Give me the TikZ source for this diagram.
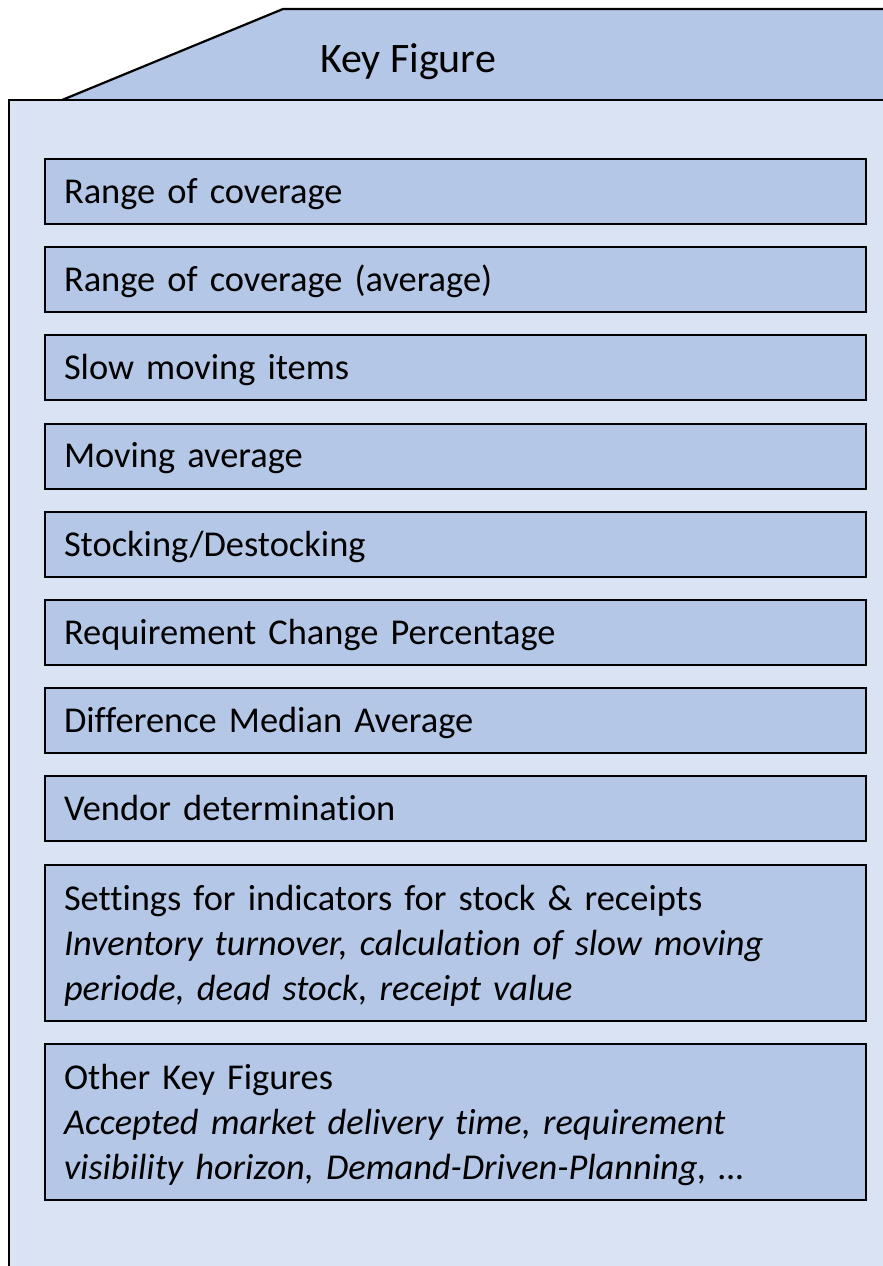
\documentclass[tikz,border=0pt]{standalone}
\usepackage{fontspec}
\setmainfont[Ligatures=NoCommon]{Carlito}
\usetikzlibrary{positioning}
\definecolor{kfdark}{HTML}{B4C7E7}
\definecolor{kflight}{HTML}{DAE3F3}
\newcommand{\kftop}{\rule{0pt}{15.5pt}}
\tikzset{
  outline/.style={draw=black, line width=1.1pt, line join=miter},
  figtitle/.style={font=\fontsize{21}{25}\selectfont, inner sep=0pt},
  figbox/.style={draw=black, fill=kfdark, line width=1pt, outer sep=0pt, anchor=north west, align=left, text width=391.5pt, inner xsep=9.5pt, inner ysep=4pt, minimum height=32.5pt, text height=15.5pt, text depth=3.7pt, font=\fontsize{18.2}{22.5}\selectfont},
  figboxtall/.style={figbox, minimum height=78pt, text height={}, text depth={}}
}
\begin{document}
\begin{tikzpicture}[x=0.5pt, y=-0.5pt, node distance=11.6pt]
  \useasboundingbox (0,0) rectangle (883,1266);
  % folder body and tab
  \fill[kflight] (9,100) rectangle (900,1280);
  \fill[kfdark] (62,100) -- (283,9) -- (900,9) -- (900,100) -- cycle;
  \draw[outline] (9,1280) -- (9,100) -- (900,100);
  \draw[outline] (62,100) -- (283,9) -- (900,9);
  \node[figtitle] (title) at (408,62) {Key Figure};
  % key figure list
  \node[figbox] (coverage) at (45,159) {Range of coverage};
  \node[figbox, below=of coverage] (coverageavg) {Range of coverage (average)};
  \node[figbox, below=of coverageavg] (slowmoving) {Slow moving items};
  \node[figbox, below=of slowmoving] (movingavg) {Moving average};
  \node[figbox, below=of movingavg] (stocking) {Stocking/Destocking};
  \node[figbox, below=of stocking] (reqchange) {Requirement Change Percentage};
  \node[figbox, below=of reqchange] (diffmedian) {Difference Median Average};
  \node[figbox, below=of diffmedian] (vendor) {Vendor determination};
  \node[figboxtall, below=of vendor] (settings) {\kftop Settings for indicators for stock \& receipts\\
    \textit{Inventory turnover, calculation of slow moving}\\
    \textit{periode, dead stock, receipt value}};
  \node[figboxtall, below=of settings] (otherkf) {\kftop Other Key Figures\\
    \textit{Accepted market delivery time, requirement}\\
    \textit{visibility horizon, Demand-Driven-Planning, \dots}};
\end{tikzpicture}
\end{document}
